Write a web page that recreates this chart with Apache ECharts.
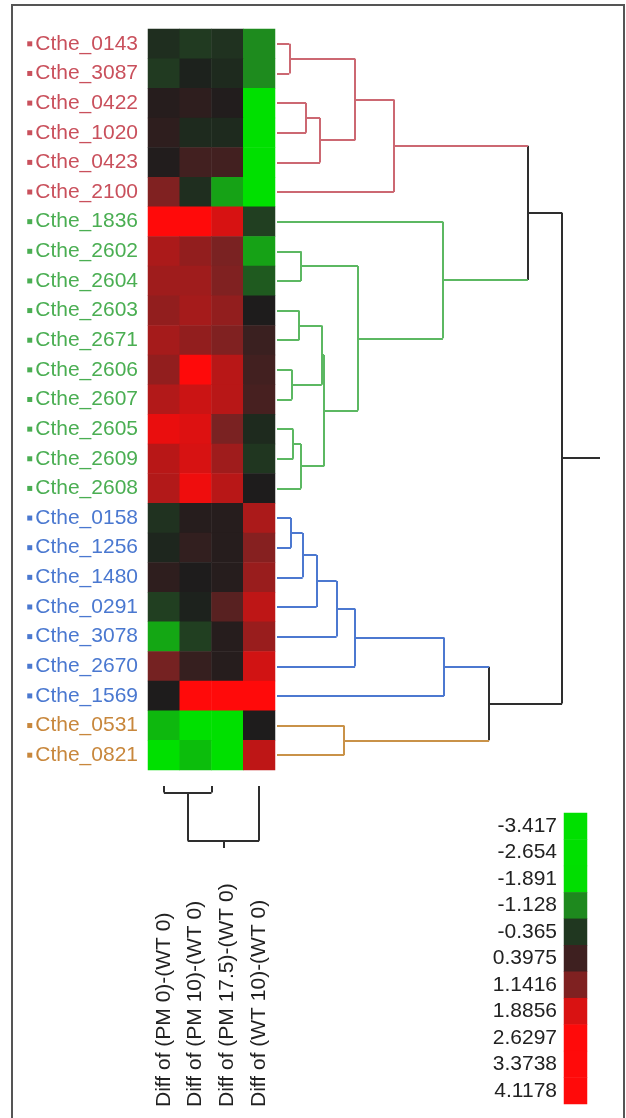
<!DOCTYPE html>
<html>
<head>
<meta charset="utf-8">
<title>Cthe clustered heatmap</title>
<script src="https://cdn.jsdelivr.net/npm/echarts@6/dist/echarts.min.js"></script>
<style>
  html, body { margin: 0; padding: 0; background: #fff; }
  #chart { width: 626px; height: 1118px; }
</style>
</head>
<body>
<div id="chart"></div>
<script>
// rows top to bottom, group = cluster (0 red, 1 green, 2 blue, 3 orange)
const rowLabels = [
  'Cthe_0143', 'Cthe_3087', 'Cthe_0422', 'Cthe_1020', 'Cthe_0423', 'Cthe_2100',
  'Cthe_1836', 'Cthe_2602', 'Cthe_2604', 'Cthe_2603', 'Cthe_2671', 'Cthe_2606',
  'Cthe_2607', 'Cthe_2605', 'Cthe_2609', 'Cthe_2608',
  'Cthe_0158', 'Cthe_1256', 'Cthe_1480', 'Cthe_0291', 'Cthe_3078', 'Cthe_2670', 'Cthe_1569',
  'Cthe_0531', 'Cthe_0821'
]
const rowGroup = [0, 0, 0, 0, 0, 0, 1, 1, 1, 1, 1, 1, 1, 1, 1, 1, 2, 2, 2, 2, 2, 2, 2, 3, 3]

const colLabels = ['Diff of (PM 0)-(WT 0)', 'Diff of (PM 10)-(WT 0)', 'Diff of (PM 17.5)-(WT 0)', 'Diff of (WT 10)-(WT 0)']

// one row per gene, one value per column
const values = [
  [-0.25, -0.4, -0.3, -1.15],
  [-0.4, -0.1, -0.2, -1.15],
  [0.1, 0.2, 0.05, -2.6],
  [0.2, -0.2, -0.2, -2.7],
  [0.05, 0.45, 0.45, -2.6],
  [1.15, -0.25, -1.35, -2.8],
  [3.0, 3.1, 1.85, -0.45],
  [1.5, 1.3, 1.1, -1.35],
  [1.4, 1.4, 1.15, -0.7],
  [1.3, 1.45, 1.3, 0.0],
  [1.45, 1.3, 1.15, 0.35],
  [1.3, 2.6, 1.6, 0.45],
  [1.55, 1.75, 1.6, 0.5],
  [2.2, 1.95, 1.1, -0.2],
  [1.6, 1.85, 1.4, -0.35],
  [1.55, 2.3, 1.6, 0.0],
  [-0.3, 0.1, 0.1, 1.5],
  [-0.15, 0.25, 0.1, 1.2],
  [0.2, 0.0, 0.1, 1.35],
  [-0.45, -0.1, 0.7, 1.65],
  [-1.4, -0.45, 0.1, 1.35],
  [1.05, 0.3, 0.1, 1.8],
  [0.0, 2.7, 2.9, 2.9],
  [-1.55, -2.4, -2.4, 0.0],
  [-2.3, -1.6, -2.4, 1.65]
]

const legendLabels = ['-3.417', '-2.654', '-1.891', '-1.128', '-0.365', '0.3975', '1.1416', '1.8856', '2.6297', '3.3738', '4.1178']

// row tree: [childA, childB, distance]; leaves are 0..24, merge k gets id 25 + k
const rowMerges = [
  [0, 1, 0.43], [2, 3, 1.02], [26, 4, 1.51], [25, 27, 2.74], [28, 5, 4.1],
  [7, 8, 0.84], [9, 10, 0.77], [11, 12, 0.52], [31, 32, 1.57], [13, 14, 0.57],
  [34, 15, 0.84], [33, 35, 1.65], [30, 36, 2.84], [6, 37, 5.82], [29, 38, 8.8],
  [16, 17, 0.49], [40, 18, 0.9], [41, 19, 1.39], [42, 20, 2.09], [43, 21, 2.74],
  [44, 22, 5.86], [23, 24, 2.35], [45, 46, 7.44], [39, 47, 10.0]
]
const rowStub = 11.33

// column tree: leaves 0..3, merge k gets id 4 + k
const colMerges = [[1, 2, 0], [0, 4, 0.12], [5, 3, 1.0]]
const colStub = 1.13

const labelColors = ['#c9505c', '#4aae52', '#4a78d0', '#c8873c']
const linkColors = ['#cc6872', '#5cb862', '#4c78d0', '#c99248']
const black = '#2e2e2e'
const font = 'Liberation Sans, Arial, sans-serif'

// colour ramp, evenly spread from -3.417 to 4.1178 (label values and the halfway points)
const ramp = [
  '#00e000', '#00e000', '#00e000', '#00e000', '#00e000', '#0fb60f', '#1e8c1e', '#1f631f',
  '#213a21', '#1c1c1c', '#3a2020', '#5a2121', '#7a2222', '#a91a1a', '#d81212', '#ec0e0e',
  '#ff0a0a', '#ff0a0a', '#ff0a0a', '#ff0a0a', '#ff0a0a'
]

// positions / heights of every node, and the segments to draw
function buildTree (merges, nLeaves, leafColor, stub) {
  const pos = []
  const h = []
  const col = []
  for (let i = 0; i < nLeaves; i++) {
    pos.push(i)
    h.push(0)
    col.push(leafColor(i))
  }
  merges.forEach(m => {
    pos.push((pos[m[0]] + pos[m[1]]) / 2)
    h.push(m[2])
    col.push(col[m[0]] === col[m[1]] ? col[m[0]] : black)
  })
  const segs = []
  merges.forEach((m, k) => {
    const id = nLeaves + k
    const d = m[2]
    if (d > 0) segs.push({ p1: pos[m[0]], h1: d, p2: pos[m[1]], h2: d, color: col[id] })
    for (const c of [m[0], m[1]]) {
      if (d > h[c]) segs.push({ p1: pos[c], h1: h[c], p2: pos[c], h2: d, color: col[c] })
    }
  })
  const root = pos.length - 1
  segs.push({ p1: pos[root], h1: h[root], p2: pos[root], h2: stub, color: black })
  return segs
}

const rowSegs = buildTree(rowMerges, rowLabels.length, i => linkColors[rowGroup[i]], rowStub)
const colSegs = buildTree(colMerges, colLabels.length, () => black, colStub)

const heatData = []
values.forEach((row, r) => {
  row.forEach((v, c) => heatData.push([c, r, v]))
})
const legendData = legendLabels.map((l, i) => [0, i, Number(l)])

// small coloured square + gene name
const rich = {}
labelColors.forEach((c, g) => {
  rich['m' + g] = { width: 5, height: 5, backgroundColor: c, verticalAlign: 'middle' }
  rich['t' + g] = { color: c, fontSize: 21, fontFamily: font, padding: [0, 0, 0, 3], verticalAlign: 'middle' }
})

const myChart = echarts.init(document.getElementById('chart'))
const option = {
  backgroundColor: '#fff',
  animation: false,
  graphic: [{
    type: 'polyline',
    shape: { points: [[12, 1118], [12, 5], [624, 5], [624, 1118]] },
    style: { stroke: '#555', lineWidth: 2, fill: null }
  }],
  grid: [
    { left: 148, top: 29, width: 127, height: 741 },
    { left: 564, top: 813, width: 23, height: 291 },
    { left: 277, top: 29, width: 323, height: 741 },
    { left: 148, top: 786, width: 127, height: 62 }
  ],
  xAxis: [
    {
      type: 'category',
      gridIndex: 0,
      data: colLabels,
      axisLine: { show: false },
      axisTick: { show: false },
      axisLabel: {
        rotate: 90,
        align: 'left',
        margin: 337,
        fontSize: 21,
        fontFamily: font,
        color: '#222',
        interval: 0
      }
    },
    { type: 'category', gridIndex: 1, data: [''], show: false },
    { type: 'value', gridIndex: 2, min: 0, max: rowStub, show: false },
    { type: 'value', gridIndex: 3, min: -0.5, max: 3.5, show: false }
  ],
  yAxis: [
    {
      type: 'category',
      gridIndex: 0,
      data: rowLabels,
      inverse: true,
      axisLine: { show: false },
      axisTick: { show: false },
      axisLabel: {
        margin: 10,
        interval: 0,
        formatter: (v, i) => '{m' + rowGroup[i] + '|}{t' + rowGroup[i] + '|' + v + '}',
        rich: rich
      }
    },
    {
      type: 'category',
      gridIndex: 1,
      data: legendLabels,
      inverse: true,
      axisLine: { show: false },
      axisTick: { show: false },
      axisLabel: { margin: 7, fontSize: 21, fontFamily: font, color: '#222', interval: 0 }
    },
    { type: 'value', gridIndex: 2, min: -0.5, max: 24.5, inverse: true, show: false },
    { type: 'value', gridIndex: 3, min: 0, max: colStub, inverse: true, show: false }
  ],
  visualMap: {
    type: 'continuous',
    show: false,
    min: -3.417,
    max: 4.1178,
    dimension: 2,
    seriesIndex: [0, 1],
    inRange: { color: ramp }
  },
  series: [
    {
      type: 'heatmap',
      xAxisIndex: 0,
      yAxisIndex: 0,
      data: heatData,
      emphasis: { disabled: true }
    },
    {
      type: 'heatmap',
      xAxisIndex: 1,
      yAxisIndex: 1,
      data: legendData,
      emphasis: { disabled: true }
    },
    {
      type: 'lines',
      coordinateSystem: 'cartesian2d',
      xAxisIndex: 2,
      yAxisIndex: 2,
      silent: true,
      lineStyle: { width: 2, opacity: 1 },
      data: rowSegs.map(s => ({ coords: [[s.h1, s.p1], [s.h2, s.p2]], lineStyle: { color: s.color } }))
    },
    {
      type: 'lines',
      coordinateSystem: 'cartesian2d',
      xAxisIndex: 3,
      yAxisIndex: 3,
      silent: true,
      lineStyle: { width: 2, opacity: 1 },
      data: colSegs.map(s => ({ coords: [[s.p1, s.h1], [s.p2, s.h2]], lineStyle: { color: s.color } }))
    }
  ]
}
myChart.setOption(option)
</script>
</body>
</html>
